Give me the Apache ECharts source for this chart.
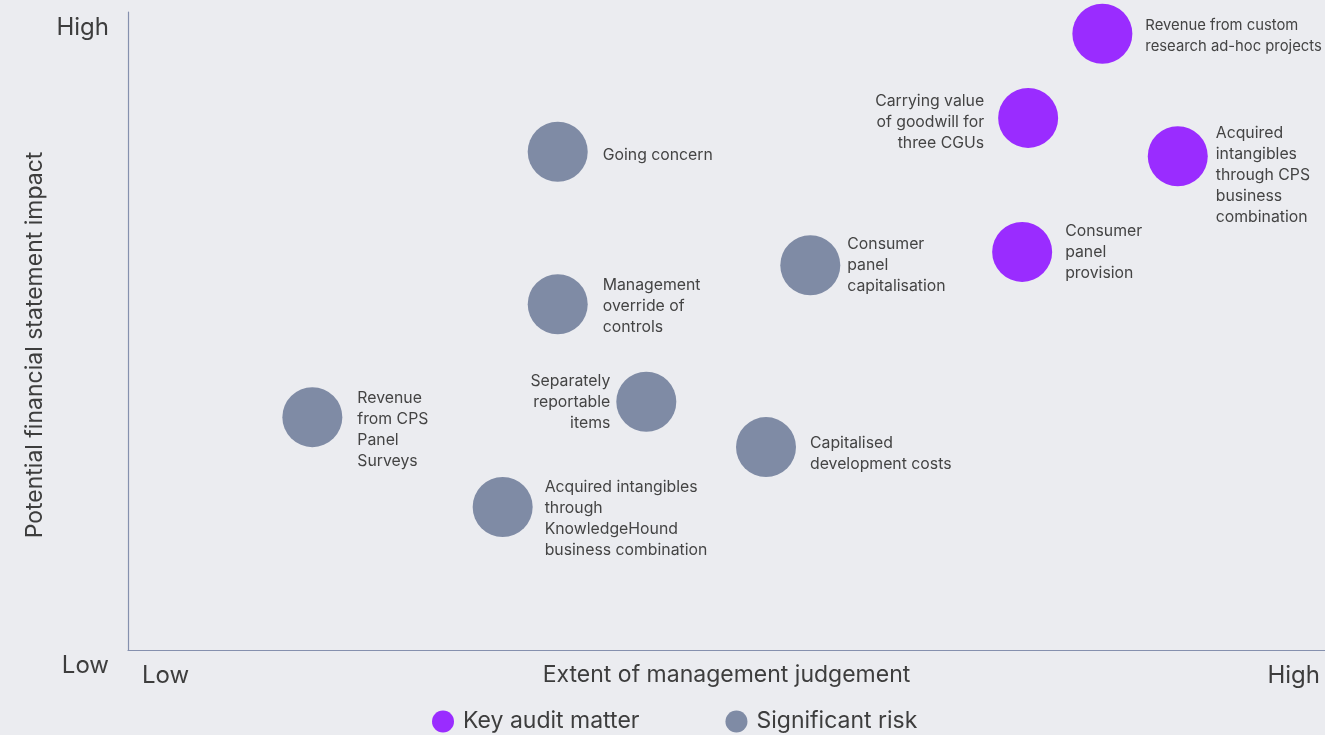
<!DOCTYPE html>
<html>
<head>
<meta charset="utf-8">
<script src="https://cdn.jsdelivr.net/npm/echarts@6/dist/echarts.min.js"></script>
<style>
  html, body { margin: 0; padding: 0; background: #ebecf0; }
  #main { width: 1325px; height: 735px; }
</style>
</head>
<body>
<div id="main"></div>
<script>
// key audit matters (purple)
const kamNames = [
  "Revenue from custom\nresearch ad-hoc projects",
  "Carrying value\nof goodwill for\nthree CGUs",
  "Acquired\nintangibles\nthrough CPS\nbusiness\ncombination",
  "Consumer\npanel\nprovision",
];
const kamX = [81.4, 75.2, 87.7, 74.7];
const kamY = [96.6, 83.4, 77.4, 62.4];

// significant risks (grey)
const riskNames = [
  "Going concern",
  "Management\noverride of\ncontrols",
  "Consumer\npanel\ncapitalisation",
  "Separately\nreportable\nitems",
  "Revenue\nfrom CPS\nPanel\nSurveys",
  "Capitalised\ndevelopment costs",
  "Acquired intangibles\nthrough\nKnowledgeHound\nbusiness combination",
];
const riskX = [35.9, 35.9, 57.0, 43.3, 15.4, 53.3, 31.3];
const riskY = [78.1, 54.2, 60.3, 38.9, 36.5, 31.8, 22.4];

const axisTicks = ["Low", "High"];

// label placement tweaks (by name)
const leftLabels = ["Carrying value\nof goodwill for\nthree CGUs", "Separately\nreportable\nitems"];
const labelShift = {
  "Going concern": 4,
  "Management\noverride of\ncontrols": 2,
  "Carrying value\nof goodwill for\nthree CGUs": 4,
  "Revenue from custom\nresearch ad-hoc projects": 2,
  "Acquired\nintangibles\nthrough CPS\nbusiness\ncombination": 19,
  "Revenue\nfrom CPS\nPanel\nSurveys": 13,
  "Capitalised\ndevelopment costs": 7,
  "Acquired intangibles\nthrough\nKnowledgeHound\nbusiness combination": 12,
};
const labelGap = {
  "Consumer\npanel\ncapitalisation": 7,
  "Acquired\nintangibles\nthrough CPS\nbusiness\ncombination": 8,
  "Acquired intangibles\nthrough\nKnowledgeHound\nbusiness combination": 12,
  "Revenue from custom\nresearch ad-hoc projects": 13,
  "Consumer\npanel\nprovision": 13,
  "Capitalised\ndevelopment costs": 14,
  "Separately\nreportable\nitems": 6,
  "Carrying value\nof goodwill for\nthree CGUs": 14,
};
// the top-right label runs to the edge, keep it a touch smaller
const smallLabels = ["Revenue from custom\nresearch ad-hoc projects"];

function buildData(names, xs, ys) {
  return names.map((n, i) => {
    const left = leftLabels.indexOf(n) >= 0;
    const lbl = {
      position: left ? "left" : "right",
      align: left ? "right" : "left",
      distance: labelGap[n] != null ? labelGap[n] : 15,
      offset: [0, labelShift[n] || 0],
    };
    if (smallLabels.indexOf(n) >= 0) lbl.fontSize = 14.8;
    return { name: n, value: [xs[i], ys[i]], label: lbl };
  });
}

const chart = echarts.init(document.getElementById("main"));
const font = "Inter, 'Noto Sans', sans-serif";

const bubbleLabel = {
  show: true,
  formatter: (p) => p.name,
  fontSize: 15.8,
  lineHeight: 21,
  color: "#444",
  fontFamily: font,
};

const option = {
  backgroundColor: "#ebecf0",
  animation: false,
  textStyle: { fontFamily: font },
  grid: { left: 128, right: 0, top: 12, bottom: 85 },
  legend: {
    top: 705,
    left: 427,
    itemWidth: 22,
    itemHeight: 22,
    itemGap: 86,
    icon: "circle",
    textStyle: { fontSize: 23, color: "#3d3d3d", fontFamily: font, padding: [0, 0, 0, 4] },
    data: ["Key audit matter", "Significant risk"],
  },
  xAxis: {
    type: "value",
    min: 0,
    max: 100,
    interval: 100,
    name: "Extent of management judgement",
    nameLocation: "middle",
    nameGap: 14,
    nameMoveOverlap: false,
    nameTextStyle: { fontSize: 23, color: "#3d3d3d", verticalAlign: "top" },
    axisLine: { show: true, lineStyle: { color: "#8590ae", width: 1.2 } },
    axisTick: { show: false },
    splitLine: { show: false },
    axisLabel: {
      fontSize: 24,
      color: "#3d3d3d",
      margin: 14,
      alignMinLabel: "left",
      alignMaxLabel: "right",
      formatter: (v) => (v === 0 ? axisTicks[0] : axisTicks[1]),
      padding: [0, 5, 0, 14],
    },
  },
  yAxis: {
    type: "value",
    min: 0,
    max: 100,
    interval: 100,
    name: "Potential financial statement impact",
    nameLocation: "middle",
    nameRotate: 90,
    nameGap: 81,
    nameMoveOverlap: false,
    nameTextStyle: { fontSize: 23, color: "#3d3d3d", padding: [0, 28, 0, 0] },
    axisLine: { show: true, lineStyle: { color: "#8590ae", width: 1.2 } },
    axisTick: { show: false },
    splitLine: { show: false },
    axisLabel: {
      fontSize: 24,
      color: "#3d3d3d",
      margin: 19,
      padding: [4, 0, 0, 0],
      verticalAlignMinLabel: "top",
      verticalAlignMaxLabel: "top",
      formatter: (v) => (v === 0 ? axisTicks[0] : axisTicks[1]),
    },
  },
  series: [
    {
      name: "Key audit matter",
      type: "scatter",
      symbolSize: 60,
      itemStyle: { color: "#9a2cff", opacity: 1 },
      label: bubbleLabel,
      emphasis: { disabled: true },
      data: buildData(kamNames, kamX, kamY),
    },
    {
      name: "Significant risk",
      type: "scatter",
      symbolSize: 60,
      itemStyle: { color: "#7f8ba5", opacity: 1 },
      label: bubbleLabel,
      emphasis: { disabled: true },
      data: buildData(riskNames, riskX, riskY),
    },
  ],
};

chart.setOption(option);
</script>
</body>
</html>
